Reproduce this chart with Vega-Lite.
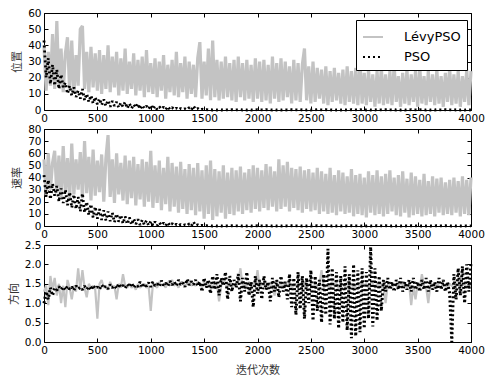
{
"$schema":"https://vega.github.io/schema/vega-lite/v6.json",
"padding":{"left":7,"top":7,"right":2,"bottom":4},
"background":"white",
"config":{
"view":{"stroke":"black","strokeWidth":1},
"axis":{"domain":false,"grid":false,"ticks":true,"tickSize":-4,"tickColor":"black","tickWidth":1,"labelPadding":7,"labelFont":"DejaVu Sans","labelFontSize":10.5,"labelColor":"black","labelFlush":false,"labelOverlap":false,"titleFont":"Noto Sans CJK SC","titleFontSize":11,"titleFontWeight":"normal","titleColor":"#333333"},
"axisY":{"titlePadding":5},
"axisX":{"titlePadding":9},
"line":{"clip":true}
},
"datasets":{
"p1":[
{"x":0,"a":40,"b":43},{"x":20,"a":12,"b":20},{"x":40,"a":36,"b":32},{"x":60,"a":15,"b":16},{"x":80,"a":47,"b":28},{"x":100,"a":13,"b":15},{"x":120,"a":55,"b":25},{"x":140,"a":14,"b":13},{"x":160,"a":38,"b":22},{"x":180,"a":11,"b":14},
{"x":200,"a":35,"b":17},{"x":220,"a":45,"b":10},{"x":240,"a":12,"b":15},{"x":260,"a":43,"b":9},{"x":280,"a":10,"b":14},{"x":300,"a":34,"b":8},{"x":320,"a":15,"b":12},{"x":340,"a":50,"b":7},{"x":360,"a":52,"b":13},{"x":380,"a":13,"b":6},
{"x":400,"a":36,"b":10},{"x":420,"a":11,"b":5},{"x":440,"a":39,"b":9},{"x":460,"a":14,"b":4},{"x":480,"a":35,"b":8},{"x":500,"a":12,"b":3.5},{"x":520,"a":37,"b":7},{"x":540,"a":10,"b":3},{"x":560,"a":34,"b":6.5},{"x":580,"a":13,"b":2.5},
{"x":600,"a":40,"b":6},{"x":620,"a":11,"b":2},{"x":640,"a":33,"b":5.5},{"x":660,"a":14,"b":2.5},{"x":680,"a":36,"b":5},{"x":700,"a":9,"b":1.5},{"x":720,"a":32,"b":4.5},{"x":740,"a":12,"b":2},{"x":760,"a":38,"b":5},{"x":780,"a":10,"b":1},
{"x":800,"a":30,"b":4},{"x":820,"a":13,"b":1},{"x":840,"a":35,"b":3.5},{"x":860,"a":9,"b":1.5},{"x":880,"a":31,"b":4},{"x":900,"a":12,"b":0.5},{"x":920,"a":33,"b":3},{"x":940,"a":8,"b":1},{"x":960,"a":37,"b":2.5},{"x":980,"a":11,"b":0.5},
{"x":1000,"a":29,"b":3},{"x":1020,"a":10,"b":0.5},{"x":1040,"a":32,"b":2.5},{"x":1060,"a":8,"b":0.3},{"x":1080,"a":30,"b":2},{"x":1100,"a":12,"b":0.5},{"x":1120,"a":34,"b":1.8},{"x":1140,"a":7,"b":0.2},{"x":1160,"a":28,"b":2.2},{"x":1180,"a":11,"b":0.3},
{"x":1200,"a":31,"b":1.5},{"x":1220,"a":9,"b":0.2},{"x":1240,"a":36,"b":1.2},{"x":1260,"a":8,"b":0.1},{"x":1280,"a":29,"b":1},{"x":1300,"a":11,"b":0.3},{"x":1320,"a":33,"b":0.8},{"x":1340,"a":7,"b":0.1},{"x":1360,"a":30,"b":1.5},{"x":1380,"a":10,"b":0},
{"x":1400,"a":28,"b":2.5},{"x":1420,"a":8,"b":0.3},{"x":1440,"a":32,"b":1},{"x":1460,"a":42,"b":0},{"x":1480,"a":7,"b":0.5},{"x":1500,"a":30,"b":0.1},{"x":1520,"a":9,"b":0.3},{"x":1540,"a":38,"b":0},{"x":1560,"a":6,"b":0.2},{"x":1580,"a":43,"b":0},
{"x":1600,"a":8,"b":0.2},{"x":1620,"a":31,"b":0},{"x":1640,"a":6,"b":0.1},{"x":1660,"a":30,"b":0},{"x":1680,"a":7,"b":0.2},{"x":1700,"a":33,"b":0},{"x":1720,"a":8,"b":0.1},{"x":1740,"a":29,"b":0},{"x":1760,"a":6,"b":0.2},{"x":1780,"a":31,"b":0},
{"x":1800,"a":5,"b":0.1},{"x":1820,"a":33,"b":0},{"x":1840,"a":8,"b":0.2},{"x":1860,"a":29,"b":0},{"x":1880,"a":6,"b":0.1},{"x":1900,"a":31,"b":0},{"x":1920,"a":7,"b":0.2},{"x":1940,"a":28,"b":0},{"x":1960,"a":5,"b":0.1},{"x":1980,"a":32,"b":0},
{"x":2000,"a":7,"b":0.2},{"x":2020,"a":30,"b":0},{"x":2040,"a":5,"b":0.1},{"x":2060,"a":31,"b":0},{"x":2080,"a":6,"b":0.2},{"x":2100,"a":28,"b":0},{"x":2120,"a":4,"b":0.1},{"x":2140,"a":33,"b":0},{"x":2160,"a":7,"b":0.2},{"x":2180,"a":29,"b":0},
{"x":2200,"a":5,"b":0.1},{"x":2220,"a":32,"b":0},{"x":2240,"a":6,"b":0.2},{"x":2260,"a":30,"b":0},{"x":2280,"a":8,"b":0.1},{"x":2300,"a":27,"b":0},{"x":2320,"a":4,"b":0.2},{"x":2340,"a":31,"b":0},{"x":2360,"a":6,"b":0.1},{"x":2380,"a":29,"b":0},
{"x":2400,"a":5,"b":0.2},{"x":2420,"a":28,"b":0},{"x":2440,"a":38,"b":0.1},{"x":2460,"a":6,"b":0},{"x":2480,"a":27,"b":0.2},{"x":2500,"a":4,"b":0},{"x":2520,"a":30,"b":0.1},{"x":2540,"a":5,"b":0},{"x":2560,"a":26,"b":0.2},{"x":2580,"a":7,"b":0},
{"x":2600,"a":25,"b":0.1},{"x":2620,"a":4,"b":0},{"x":2640,"a":27,"b":0.2},{"x":2660,"a":3,"b":0},{"x":2680,"a":24,"b":0.1},{"x":2700,"a":5,"b":0},{"x":2720,"a":26,"b":0.2},{"x":2740,"a":6,"b":0},{"x":2760,"a":23,"b":0.1},{"x":2780,"a":4,"b":0},
{"x":2800,"a":25,"b":0.2},{"x":2820,"a":3,"b":0},{"x":2840,"a":27,"b":0.1},{"x":2860,"a":5,"b":0},{"x":2880,"a":24,"b":0.2},{"x":2900,"a":4,"b":0},{"x":2920,"a":26,"b":0.1},{"x":2940,"a":3,"b":0},{"x":2960,"a":30,"b":0.2},{"x":2980,"a":4,"b":0},
{"x":3000,"a":23,"b":0.1},{"x":3020,"a":3,"b":0},{"x":3040,"a":25,"b":0.2},{"x":3060,"a":5,"b":0},{"x":3080,"a":22,"b":0.1},{"x":3100,"a":2,"b":0},{"x":3120,"a":24,"b":0.2},{"x":3140,"a":4,"b":0},{"x":3160,"a":27,"b":0.1},{"x":3180,"a":3,"b":0},
{"x":3200,"a":22,"b":0.2},{"x":3220,"a":4,"b":0},{"x":3240,"a":24,"b":0.1},{"x":3260,"a":3,"b":0},{"x":3280,"a":28,"b":0.2},{"x":3300,"a":5,"b":0},{"x":3320,"a":21,"b":0.1},{"x":3340,"a":2,"b":0},{"x":3360,"a":23,"b":0.2},{"x":3380,"a":4,"b":0},
{"x":3400,"a":25,"b":0.1},{"x":3420,"a":3,"b":0},{"x":3440,"a":22,"b":0.2},{"x":3460,"a":5,"b":0},{"x":3480,"a":24,"b":0.1},{"x":3500,"a":2,"b":0},{"x":3520,"a":27,"b":0.2},{"x":3540,"a":4,"b":0},{"x":3560,"a":21,"b":0.1},{"x":3580,"a":3,"b":0},
{"x":3600,"a":24,"b":0.2},{"x":3620,"a":5,"b":0},{"x":3640,"a":22,"b":0.1},{"x":3660,"a":3,"b":0},{"x":3680,"a":25,"b":0.2},{"x":3700,"a":4,"b":0},{"x":3720,"a":21,"b":0.1},{"x":3740,"a":2,"b":0},{"x":3760,"a":23,"b":0.2},{"x":3780,"a":5,"b":0},
{"x":3800,"a":26,"b":0.1},{"x":3820,"a":3,"b":0},{"x":3840,"a":22,"b":0.2},{"x":3860,"a":4,"b":0},{"x":3880,"a":24,"b":0.1},{"x":3900,"a":2,"b":0},{"x":3920,"a":21,"b":0.2},{"x":3940,"a":5,"b":0},{"x":3960,"a":25,"b":0.1},{"x":3980,"a":3,"b":0},
{"x":4000,"a":24,"b":0.1}
],
"p2":[
{"x":0,"a":55,"b":42},{"x":20,"a":25,"b":24},{"x":40,"a":60,"b":38},{"x":60,"a":30,"b":22},{"x":80,"a":52,"b":35},{"x":100,"a":62,"b":25},{"x":120,"a":27,"b":33},{"x":140,"a":58,"b":20},{"x":160,"a":24,"b":31},{"x":180,"a":66,"b":19},
{"x":200,"a":28,"b":30},{"x":220,"a":56,"b":17},{"x":240,"a":22,"b":28},{"x":260,"a":68,"b":15},{"x":280,"a":26,"b":26},{"x":300,"a":55,"b":14},{"x":320,"a":30,"b":24},{"x":340,"a":61,"b":12},{"x":360,"a":23,"b":27},{"x":380,"a":70,"b":11},
{"x":400,"a":27,"b":20},{"x":420,"a":57,"b":9},{"x":440,"a":21,"b":18},{"x":460,"a":63,"b":7},{"x":480,"a":25,"b":16},{"x":500,"a":54,"b":6},{"x":520,"a":28,"b":14},{"x":540,"a":59,"b":5},{"x":560,"a":20,"b":13},{"x":580,"a":56,"b":4.5},
{"x":600,"a":75,"b":12},{"x":620,"a":24,"b":4},{"x":640,"a":55,"b":11},{"x":660,"a":19,"b":3},{"x":680,"a":60,"b":10},{"x":700,"a":26,"b":3.5},{"x":720,"a":52,"b":9},{"x":740,"a":21,"b":2},{"x":760,"a":58,"b":8},{"x":780,"a":18,"b":1.5},
{"x":800,"a":54,"b":7},{"x":820,"a":23,"b":1},{"x":840,"a":57,"b":6},{"x":860,"a":17,"b":1.5},{"x":880,"a":51,"b":5.5},{"x":900,"a":22,"b":0.8},{"x":920,"a":55,"b":5},{"x":940,"a":16,"b":1},{"x":960,"a":53,"b":4.5},{"x":980,"a":20,"b":0.5},
{"x":1000,"a":62,"b":4},{"x":1020,"a":15,"b":0.5},{"x":1040,"a":50,"b":3.5},{"x":1060,"a":19,"b":0.3},{"x":1080,"a":54,"b":3},{"x":1100,"a":13,"b":0.5},{"x":1120,"a":48,"b":2.5},{"x":1140,"a":18,"b":0.2},{"x":1160,"a":57,"b":3},{"x":1180,"a":12,"b":0.3},
{"x":1200,"a":52,"b":2},{"x":1220,"a":16,"b":0.2},{"x":1240,"a":49,"b":1.5},{"x":1260,"a":11,"b":0.1},{"x":1280,"a":53,"b":1.2},{"x":1300,"a":14,"b":0.3},{"x":1320,"a":47,"b":1},{"x":1340,"a":10,"b":0.1},{"x":1360,"a":51,"b":1.8},{"x":1380,"a":13,"b":0},
{"x":1400,"a":48,"b":3.5},{"x":1420,"a":9,"b":0.3},{"x":1440,"a":52,"b":1},{"x":1460,"a":12,"b":0},{"x":1480,"a":46,"b":0.5},{"x":1500,"a":6,"b":0.1},{"x":1520,"a":50,"b":0.3},{"x":1540,"a":10,"b":0},{"x":1560,"a":54,"b":0.2},{"x":1580,"a":5,"b":0},
{"x":1600,"a":47,"b":0.2},{"x":1620,"a":8,"b":0},{"x":1640,"a":45,"b":0.1},{"x":1660,"a":11,"b":0},{"x":1680,"a":50,"b":0.2},{"x":1700,"a":6,"b":0},{"x":1720,"a":44,"b":0.1},{"x":1740,"a":10,"b":0},{"x":1760,"a":48,"b":0.2},{"x":1780,"a":9,"b":0},
{"x":1800,"a":46,"b":0.1},{"x":1820,"a":12,"b":0},{"x":1840,"a":49,"b":0.2},{"x":1860,"a":10,"b":0},{"x":1880,"a":44,"b":0.1},{"x":1900,"a":13,"b":0},{"x":1920,"a":47,"b":0.2},{"x":1940,"a":11,"b":0},{"x":1960,"a":50,"b":0.1},{"x":1980,"a":14,"b":0},
{"x":2000,"a":48,"b":0.2},{"x":2020,"a":12,"b":0},{"x":2040,"a":46,"b":0.1},{"x":2060,"a":15,"b":0},{"x":2080,"a":51,"b":0.2},{"x":2100,"a":13,"b":0},{"x":2120,"a":49,"b":0.1},{"x":2140,"a":16,"b":0},{"x":2160,"a":45,"b":0.2},{"x":2180,"a":12,"b":0},
{"x":2200,"a":55,"b":0.1},{"x":2220,"a":14,"b":0},{"x":2240,"a":50,"b":0.2},{"x":2260,"a":16,"b":0},{"x":2280,"a":53,"b":0.1},{"x":2300,"a":12,"b":0},{"x":2320,"a":48,"b":0.2},{"x":2340,"a":15,"b":0},{"x":2360,"a":47,"b":0.1},{"x":2380,"a":13,"b":0},
{"x":2400,"a":49,"b":0.2},{"x":2420,"a":11,"b":0},{"x":2440,"a":46,"b":0.1},{"x":2460,"a":14,"b":0},{"x":2480,"a":47,"b":0.2},{"x":2500,"a":12,"b":0},{"x":2520,"a":44,"b":0.1},{"x":2540,"a":13,"b":0},{"x":2560,"a":48,"b":0.2},{"x":2580,"a":10,"b":0},
{"x":2600,"a":45,"b":0.1},{"x":2620,"a":12,"b":0},{"x":2640,"a":43,"b":0.2},{"x":2660,"a":10,"b":0},{"x":2680,"a":48,"b":0.1},{"x":2700,"a":11,"b":0},{"x":2720,"a":42,"b":0.2},{"x":2740,"a":9,"b":0},{"x":2760,"a":46,"b":0.1},{"x":2780,"a":12,"b":0},
{"x":2800,"a":44,"b":0.2},{"x":2820,"a":10,"b":0},{"x":2840,"a":41,"b":0.1},{"x":2860,"a":11,"b":0},{"x":2880,"a":47,"b":0.2},{"x":2900,"a":8,"b":0},{"x":2920,"a":42,"b":0.1},{"x":2940,"a":10,"b":0},{"x":2960,"a":43,"b":0.2},{"x":2980,"a":9,"b":0},
{"x":3000,"a":40,"b":0.1},{"x":3020,"a":7,"b":0},{"x":3040,"a":45,"b":0.2},{"x":3060,"a":11,"b":0},{"x":3080,"a":42,"b":0.1},{"x":3100,"a":9,"b":0},{"x":3120,"a":46,"b":0.2},{"x":3140,"a":10,"b":0},{"x":3160,"a":41,"b":0.1},{"x":3180,"a":8,"b":0},
{"x":3200,"a":43,"b":0.2},{"x":3220,"a":10,"b":0},{"x":3240,"a":46,"b":0.1},{"x":3260,"a":12,"b":0},{"x":3280,"a":40,"b":0.2},{"x":3300,"a":9,"b":0},{"x":3320,"a":42,"b":0.1},{"x":3340,"a":8,"b":0},{"x":3360,"a":45,"b":0.2},{"x":3380,"a":11,"b":0},
{"x":3400,"a":39,"b":0.1},{"x":3420,"a":7,"b":0},{"x":3440,"a":44,"b":0.2},{"x":3460,"a":9,"b":0},{"x":3480,"a":41,"b":0.1},{"x":3500,"a":10,"b":0},{"x":3520,"a":38,"b":0.2},{"x":3540,"a":8,"b":0},{"x":3560,"a":43,"b":0.1},{"x":3580,"a":9,"b":0},
{"x":3600,"a":37,"b":0.2},{"x":3620,"a":10,"b":0},{"x":3640,"a":41,"b":0.1},{"x":3660,"a":8,"b":0},{"x":3680,"a":39,"b":0.2},{"x":3700,"a":11,"b":0},{"x":3720,"a":40,"b":0.1},{"x":3740,"a":9,"b":0},{"x":3760,"a":36,"b":0.2},{"x":3780,"a":10,"b":0},
{"x":3800,"a":38,"b":0.1},{"x":3820,"a":9,"b":0},{"x":3840,"a":40,"b":0.2},{"x":3860,"a":11,"b":0},{"x":3880,"a":37,"b":0.1},{"x":3900,"a":8,"b":0},{"x":3920,"a":41,"b":0.2},{"x":3940,"a":10,"b":0},{"x":3960,"a":38,"b":0.1},{"x":3980,"a":9,"b":0},
{"x":4000,"a":40,"b":0.1}
],
"p3":[
{"x":0,"a":1.3,"b":1.0},{"x":20,"a":1.45,"b":1.3},{"x":40,"a":0.95,"b":1.1},{"x":60,"a":1.7,"b":1.4},{"x":80,"a":1.35,"b":1.2},{"x":100,"a":1.65,"b":1.38},{"x":120,"a":1.2,"b":1.33},{"x":140,"a":1.5,"b":1.43},{"x":160,"a":1.0,"b":1.35},{"x":180,"a":1.45,"b":1.42},
{"x":200,"a":0.9,"b":1.34},{"x":220,"a":1.6,"b":1.44},{"x":240,"a":1.4,"b":1.36},{"x":260,"a":1.1,"b":1.42},{"x":280,"a":1.45,"b":1.33},{"x":300,"a":1.3,"b":1.45},{"x":320,"a":1.9,"b":1.37},{"x":340,"a":1.35,"b":1.41},{"x":360,"a":1.85,"b":1.35},{"x":380,"a":1.4,"b":1.44},
{"x":400,"a":1.15,"b":1.36},{"x":420,"a":1.5,"b":1.43},{"x":440,"a":1.4,"b":1.34},{"x":460,"a":1.45,"b":1.46},{"x":480,"a":1.35,"b":1.38},{"x":500,"a":0.6,"b":1.42},{"x":520,"a":1.5,"b":1.36},{"x":540,"a":1.6,"b":1.47},{"x":560,"a":1.4,"b":1.39},{"x":580,"a":1.45,"b":1.44},
{"x":600,"a":1.35,"b":1.37},{"x":620,"a":1.55,"b":1.48},{"x":640,"a":1.4,"b":1.4},{"x":660,"a":1.45,"b":1.45},{"x":680,"a":1.1,"b":1.38},{"x":700,"a":1.5,"b":1.5},{"x":720,"a":1.4,"b":1.41},{"x":740,"a":1.75,"b":1.46},{"x":760,"a":1.45,"b":1.39},{"x":780,"a":1.4,"b":1.49},
{"x":800,"a":1.5,"b":1.42},{"x":820,"a":1.4,"b":1.52},{"x":840,"a":1.45,"b":1.4},{"x":860,"a":1.35,"b":1.47},{"x":880,"a":1.5,"b":1.43},{"x":900,"a":1.4,"b":1.55},{"x":920,"a":1.45,"b":1.41},{"x":940,"a":1.5,"b":1.5},{"x":960,"a":1.4,"b":1.44},{"x":980,"a":1.45,"b":1.53},
{"x":1000,"a":0.8,"b":1.42},{"x":1020,"a":1.5,"b":1.55},{"x":1040,"a":1.45,"b":1.45},{"x":1060,"a":1.4,"b":1.5},{"x":1080,"a":1.55,"b":1.43},{"x":1100,"a":1.45,"b":1.58},{"x":1120,"a":1.5,"b":1.46},{"x":1140,"a":1.4,"b":1.52},{"x":1160,"a":1.55,"b":1.44},{"x":1180,"a":1.45,"b":1.57},
{"x":1200,"a":1.6,"b":1.47},{"x":1220,"a":1.45,"b":1.55},{"x":1240,"a":1.5,"b":1.45},{"x":1260,"a":1.4,"b":1.6},{"x":1280,"a":1.55,"b":1.48},{"x":1300,"a":1.5,"b":1.53},{"x":1320,"a":1.45,"b":1.42},{"x":1340,"a":1.5,"b":1.62},{"x":1360,"a":1.6,"b":1.47},{"x":1380,"a":1.45,"b":1.56},
{"x":1400,"a":1.5,"b":1.48},{"x":1420,"a":1.45,"b":1.6},{"x":1440,"a":1.55,"b":1.45},{"x":1460,"a":1.5,"b":1.55},{"x":1480,"a":1.4,"b":1.3},{"x":1500,"a":1.55,"b":1.65},{"x":1520,"a":1.5,"b":1.4},{"x":1540,"a":1.45,"b":1.6},{"x":1560,"a":1.5,"b":1.25},{"x":1580,"a":1.4,"b":1.7},
{"x":1600,"a":1.55,"b":1.35},{"x":1620,"a":1.5,"b":1.75},{"x":1640,"a":1.05,"b":1.2},{"x":1660,"a":1.45,"b":1.65},{"x":1680,"a":1.6,"b":1.45},{"x":1700,"a":1.5,"b":1.8},{"x":1720,"a":1.4,"b":1.1},{"x":1740,"a":1.55,"b":1.7},{"x":1760,"a":1.5,"b":1.3},{"x":1780,"a":1.45,"b":1.6},
{"x":1800,"a":1.5,"b":1.4},{"x":1820,"a":1.55,"b":1.75},{"x":1840,"a":1.9,"b":1.05},{"x":1860,"a":1.45,"b":1.65},{"x":1880,"a":1.5,"b":1.3},{"x":1900,"a":1.4,"b":1.8},{"x":1920,"a":1.55,"b":1.2},{"x":1940,"a":1.45,"b":1.55},{"x":1960,"a":1.5,"b":0.9},{"x":1980,"a":1.45,"b":1.7},
{"x":2000,"a":1.85,"b":1.25},{"x":2020,"a":1.4,"b":1.6},{"x":2040,"a":1.5,"b":1.1},{"x":2060,"a":1.45,"b":1.7},{"x":2080,"a":1.55,"b":1.35},{"x":2100,"a":1.4,"b":1.55},{"x":2120,"a":1.5,"b":1.05},{"x":2140,"a":1.45,"b":1.65},{"x":2160,"a":1.2,"b":1.3},{"x":2180,"a":1.5,"b":1.6},
{"x":2200,"a":1.45,"b":1.15},{"x":2220,"a":1.5,"b":1.7},{"x":2240,"a":1.4,"b":1.3},{"x":2260,"a":1.55,"b":1.55},{"x":2280,"a":1.45,"b":1.1},{"x":2300,"a":1.5,"b":1.75},{"x":2320,"a":1.4,"b":0.9},{"x":2340,"a":1.45,"b":1.65},{"x":2360,"a":1.5,"b":0.7},{"x":2380,"a":1.4,"b":1.8},
{"x":2400,"a":1.5,"b":0.85},{"x":2420,"a":1.45,"b":1.7},{"x":2440,"a":1.55,"b":0.6},{"x":2460,"a":1.4,"b":1.65},{"x":2480,"a":1.5,"b":1.0},{"x":2500,"a":1.45,"b":1.85},{"x":2520,"a":1.4,"b":0.55},{"x":2540,"a":1.5,"b":1.7},{"x":2560,"a":1.45,"b":0.8},{"x":2580,"a":1.5,"b":1.6},
{"x":2600,"a":1.85,"b":0.5},{"x":2620,"a":1.4,"b":1.75},{"x":2640,"a":1.45,"b":0.7},{"x":2660,"a":1.5,"b":2.4},{"x":2680,"a":1.4,"b":0.45},{"x":2700,"a":1.55,"b":1.9},{"x":2720,"a":1.45,"b":0.6},{"x":2740,"a":1.5,"b":1.8},{"x":2760,"a":1.4,"b":0.35},{"x":2780,"a":1.45,"b":1.7},
{"x":2800,"a":1.5,"b":0.5},{"x":2820,"a":1.4,"b":1.95},{"x":2840,"a":1.55,"b":0.3},{"x":2860,"a":1.45,"b":1.75},{"x":2880,"a":1.5,"b":0.1},{"x":2900,"a":1.4,"b":2.0},{"x":2920,"a":1.45,"b":0.15},{"x":2940,"a":1.5,"b":1.85},{"x":2960,"a":1.4,"b":0.25},{"x":2980,"a":1.55,"b":1.9},
{"x":3000,"a":1.45,"b":0.35},{"x":3020,"a":1.5,"b":1.8},{"x":3040,"a":1.4,"b":0.6},{"x":3060,"a":1.45,"b":2.45},{"x":3080,"a":1.5,"b":0.4},{"x":3100,"a":1.4,"b":1.9},{"x":3120,"a":1.5,"b":0.55},{"x":3140,"a":1.45,"b":1.7},{"x":3160,"a":1.5,"b":0.8},{"x":3180,"a":1.4,"b":1.6},
{"x":3200,"a":1.0,"b":1.3},{"x":3220,"a":1.5,"b":1.65},{"x":3240,"a":1.45,"b":1.35},{"x":3260,"a":1.4,"b":1.55},{"x":3280,"a":1.5,"b":1.3},{"x":3300,"a":1.45,"b":1.6},{"x":3320,"a":1.4,"b":1.35},{"x":3340,"a":1.55,"b":1.65},{"x":3360,"a":1.45,"b":1.3},{"x":3380,"a":1.5,"b":1.55},
{"x":3400,"a":1.4,"b":1.35},{"x":3420,"a":1.5,"b":1.6},{"x":3440,"a":0.95,"b":1.3},{"x":3460,"a":1.45,"b":1.65},{"x":3480,"a":1.1,"b":1.35},{"x":3500,"a":1.5,"b":1.55},{"x":3520,"a":1.4,"b":1.3},{"x":3540,"a":1.75,"b":1.6},{"x":3560,"a":1.45,"b":1.35},{"x":3580,"a":1.4,"b":1.65},
{"x":3600,"a":1.0,"b":1.3},{"x":3620,"a":1.5,"b":1.6},{"x":3640,"a":1.45,"b":1.35},{"x":3660,"a":1.4,"b":1.55},{"x":3680,"a":1.5,"b":1.3},{"x":3700,"a":1.45,"b":1.65},{"x":3720,"a":1.4,"b":1.35},{"x":3740,"a":1.5,"b":1.6},{"x":3760,"a":1.45,"b":1.3},{"x":3780,"a":1.4,"b":1.55},
{"x":3800,"a":1.5,"b":1.25},{"x":3820,"a":1.45,"b":0.0},{"x":3840,"a":1.4,"b":1.75},{"x":3860,"a":1.5,"b":1.1},{"x":3880,"a":1.45,"b":1.9},{"x":3900,"a":1.6,"b":1.2},{"x":3920,"a":1.45,"b":1.95},{"x":3940,"a":1.5,"b":1.0},{"x":3960,"a":1.4,"b":2.0},{"x":3980,"a":1.45,"b":1.3},
{"x":4000,"a":1.45,"b":2.05}
]
},
"spacing":19,
"bounds":"flush",
"resolve":{"legend":{"color":"independent","strokeDash":"independent"}},
"vconcat":[
{"width":427,"height":97,"data":{"name":"p1"},
"layer":[
{"mark":{"type":"line","strokeWidth":3.2,"strokeJoin":"bevel"},
"encoding":{
"x":{"field":"x","type":"quantitative","scale":{"domain":[0,4000],"nice":false},"axis":{"values":[0,500,1000,1500,2000,2500,3000,3500,4000],"format":"d","title":null}},
"y":{"field":"a","type":"quantitative","scale":{"domain":[0,60],"nice":false},"axis":{"values":[0,10,20,30,40,50,60],"title":"位置"}},
"color":{"datum":"LévyPSO","type":"nominal","scale":{"domain":["LévyPSO","PSO"],"range":["#c3c3c3","#000000"]},"legend":{"orient":"none","legendX":312,"legendY":7,"title":null,"fillColor":"white","strokeColor":"black","padding":6,"symbolType":"stroke","symbolSize":400,"symbolStrokeWidth":2,"labelFont":"DejaVu Sans","labelFontSize":13,"labelColor":"black","labelOffset":20,"rowPadding":2}},
"strokeDash":{"datum":"LévyPSO","type":"nominal","scale":{"domain":["LévyPSO","PSO"],"range":[[1,0],[2,3]]}}
}},
{"mark":{"type":"line","strokeWidth":2.8,"strokeJoin":"bevel"},
"encoding":{
"x":{"field":"x","type":"quantitative","axis":{"orient":"top","labels":false,"title":null,"values":[0,500,1000,1500,2000,2500,3000,3500,4000]}},
"y":{"field":"b","type":"quantitative","axis":{"orient":"right","labels":false,"title":null,"values":[0,10,20,30,40,50,60]}},
"color":{"datum":"PSO","type":"nominal"},
"strokeDash":{"datum":"PSO","type":"nominal"}
}}
],
"resolve":{"axis":{"x":"independent","y":"independent"}}
},
{"width":427,"height":97,"data":{"name":"p2"},
"layer":[
{"mark":{"type":"line","strokeWidth":3.2,"strokeJoin":"bevel","color":"#c3c3c3"},
"encoding":{
"x":{"field":"x","type":"quantitative","scale":{"domain":[0,4000],"nice":false},"axis":{"values":[0,500,1000,1500,2000,2500,3000,3500,4000],"format":"d","title":null}},
"y":{"field":"a","type":"quantitative","scale":{"domain":[0,80],"nice":false},"axis":{"values":[0,10,20,30,40,50,60,70,80],"title":"速率"}}
}},
{"mark":{"type":"line","strokeWidth":2.8,"strokeJoin":"bevel","color":"black","strokeDash":[2,3]},
"encoding":{
"x":{"field":"x","type":"quantitative","axis":{"orient":"top","labels":false,"title":null,"values":[0,500,1000,1500,2000,2500,3000,3500,4000]}},
"y":{"field":"b","type":"quantitative","axis":{"orient":"right","labels":false,"title":null,"values":[0,10,20,30,40,50,60,70,80]}}
}}
],
"resolve":{"axis":{"x":"independent","y":"independent"}}
},
{"width":427,"height":97,"data":{"name":"p3"},
"layer":[
{"mark":{"type":"line","strokeWidth":2.2,"strokeJoin":"bevel","color":"#c3c3c3"},
"encoding":{
"x":{"field":"x","type":"quantitative","scale":{"domain":[0,4000],"nice":false},"axis":{"values":[0,500,1000,1500,2000,2500,3000,3500,4000],"format":"d","title":"迭代次数"}},
"y":{"field":"a","type":"quantitative","scale":{"domain":[0,2.5],"nice":false},"axis":{"values":[0,0.5,1,1.5,2,2.5],"format":".1f","title":"方向"}}
}},
{"mark":{"type":"line","strokeWidth":3,"strokeJoin":"bevel","color":"black","strokeDash":[2,2.5]},
"encoding":{
"x":{"field":"x","type":"quantitative","axis":{"orient":"top","labels":false,"title":null,"values":[0,500,1000,1500,2000,2500,3000,3500,4000]}},
"y":{"field":"b","type":"quantitative","axis":{"orient":"right","labels":false,"title":null,"values":[0,0.5,1,1.5,2,2.5]}}
}}
],
"resolve":{"axis":{"x":"independent","y":"independent"}}
}
]
}
